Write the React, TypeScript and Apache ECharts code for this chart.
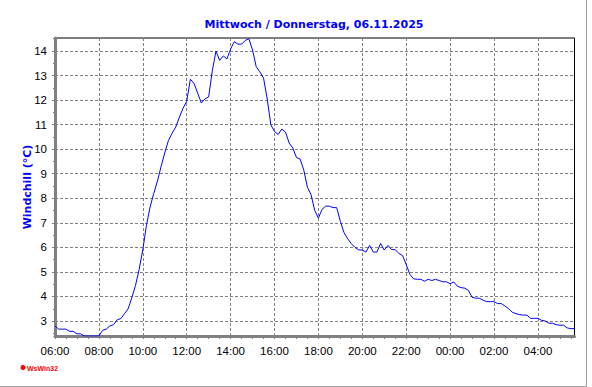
import React, { useEffect, useRef } from "react";
import * as echarts from "echarts";

const chartTitle = "Mittwoch / Donnerstag, 06.11.2025";
const yAxisName = "Windchill (°C)";
const startHour = 6;
const stepMinutes = 10;

// Windchill (°C), one value every 10 minutes from 06:00 to 05:40 of the next day
const windchill: number[] = [
  // 06:00 - 06:50
  2.8, 2.67, 2.67, 2.67, 2.58, 2.58,
  // 07:00 - 07:50
  2.48, 2.48, 2.39, 2.39, 2.39, 2.39,
  // 08:00 - 08:50
  2.39, 2.62, 2.67, 2.8, 2.85, 3.05,
  // 09:00 - 09:50
  3.1, 3.3, 3.5, 3.95, 4.45, 5.1,
  // 10:00 - 10:50
  5.9, 6.9, 7.65, 8.2, 8.7, 9.3,
  // 11:00 - 11:50
  9.85, 10.35, 10.65, 10.9, 11.3, 11.67,
  // 12:00 - 12:50
  11.95, 12.85, 12.68, 12.28, 11.88, 12.05,
  // 13:00 - 13:50
  12.13, 13.2, 14.0, 13.62, 13.8, 13.68,
  // 14:00 - 14:50
  14.08, 14.38, 14.28, 14.28, 14.43, 14.5,
  // 15:00 - 15:50
  14.04, 13.36, 13.15, 12.9, 12.05, 10.99,
  // 16:00 - 16:50
  10.72, 10.6, 10.82, 10.7, 10.25, 10.05,
  // 17:00 - 17:50
  9.66, 9.6, 9.15, 8.45, 8.14, 7.5,
  // 18:00 - 18:50
  7.19, 7.55, 7.68, 7.68, 7.62, 7.62,
  // 19:00 - 19:50
  7.06, 6.6, 6.35, 6.15, 6.0, 5.9,
  // 20:00 - 20:50
  5.89, 5.81, 6.08, 5.81, 5.81, 6.16,
  // 21:00 - 21:50
  5.89, 6.08, 5.91, 5.91, 5.75, 5.67,
  // 22:00 - 22:50
  5.3, 4.9, 4.72, 4.7, 4.7, 4.62,
  // 23:00 - 23:50
  4.7, 4.65, 4.7, 4.65, 4.6, 4.6,
  // 00:00 - 00:50
  4.52, 4.59, 4.42, 4.36, 4.34, 4.25,
  // 01:00 - 01:50
  3.97, 3.93, 3.93, 3.85, 3.79, 3.79,
  // 02:00 - 02:50
  3.79, 3.71, 3.71, 3.61, 3.5, 3.36,
  // 03:00 - 03:50
  3.3, 3.26, 3.24, 3.24, 3.11, 3.11,
  // 04:00 - 04:50
  3.11, 3.03, 3.0, 2.91, 2.91, 2.85,
  // 05:00 - 05:40
  2.83, 2.83, 2.72, 2.69, 2.69,
];

const yMin = 2.39;
const yMax = 14.53;
const yTickValues: number[] = [3, 4, 5, 6, 7, 8, 9, 10, 11, 12, 13, 14];
const yMinorTickValues: number[] = [2.5, 3.5, 4.5, 5.5, 6.5, 7.5, 8.5, 9.5, 10.5, 11.5, 12.5, 13.5, 14.5];

const pad = (n: number) => (n < 10 ? "0" + n : "" + n);
const times: string[] = windchill.map((_, i) => {
  const total = startHour * 60 + i * stepMinutes;
  const h = Math.floor(total / 60) % 24;
  const m = total % 60;
  return pad(h) + ":" + pad(m);
});

export default function App() {
  const ref = useRef<HTMLDivElement>(null);
  useEffect(() => {
    if (!ref.current) return;
    const chart = echarts.init(ref.current, null, { renderer: "svg" });
    const gray = "#808080";
    chart.setOption({
      animation: false,
      backgroundColor: "#ffffff",
      grid: {
        left: 55,
        right: 17.5,
        top: 38,
        bottom: 51,
        show: true,
        borderColor: "#000000",
        borderWidth: 1,
        backgroundColor: "transparent",
      },
      xAxis: {
        type: "category",
        data: times,
        boundaryGap: false,
        axisLine: { show: true, lineStyle: { color: gray, width: 3 } },
        axisTick: { show: true, interval: 2, length: 3, lineStyle: { color: gray, width: 1 } },
        axisLabel: {
          interval: 11,
          margin: 9,
          color: "#000000",
          fontFamily: "Liberation Sans, Arial, sans-serif",
          fontSize: 11.5,
        },
        splitLine: {
          show: true,
          interval: 11,
          lineStyle: { color: gray, type: [3, 2], width: 1 },
        },
      },
      yAxis: [
        {
          type: "value",
          min: yMin,
          max: yMax,
          axisLine: { show: true, lineStyle: { color: gray, width: 3 } },
          axisTick: { show: true, length: 3, customValues: yTickValues, lineStyle: { color: gray } },
          axisLabel: {
            margin: 8,
            color: "#000000",
            fontFamily: "Liberation Sans, Arial, sans-serif",
            fontSize: 11.5,
            customValues: yTickValues,
          },
          splitLine: { show: false },
        },
        {
          type: "value",
          min: yMin,
          max: yMax,
          position: "left",
          axisLine: { show: false },
          axisTick: { show: true, length: 2, customValues: yMinorTickValues, lineStyle: { color: gray } },
          axisLabel: { show: false },
          splitLine: { show: false },
        },
      ],
      series: [
        {
          type: "line",
          name: yAxisName,
          data: windchill,
          yAxisIndex: 0,
          showSymbol: false,
          symbol: "none",
          lineStyle: { color: "#0000FF", width: 1 },
          itemStyle: { color: "#0000FF" },
          z: 3,
          markLine: {
            silent: true,
            symbol: "none",
            label: { show: false },
            lineStyle: { color: gray, type: [3, 2], width: 1 },
            emphasis: { disabled: true },
            data: yTickValues.map((v) => ({ yAxis: v })),
            z: 1,
          },
        },
      ],
      graphic: [
        {
          type: "text",
          x: 314,
          y: 24,
          style: {
            text: chartTitle,
            fill: "#0000FF",
            font: 'bold 11px "DejaVu Sans", Verdana, sans-serif',
            textAlign: "center",
            textVerticalAlign: "middle",
          },
        },
        {
          type: "text",
          x: 27,
          y: 187,
          rotation: Math.PI / 2,
          style: {
            text: yAxisName,
            fill: "#0000FF",
            font: 'bold 11px "DejaVu Sans", Verdana, sans-serif',
            textAlign: "center",
            textVerticalAlign: "middle",
          },
        },
        {
          type: "circle",
          shape: { cx: 23, cy: 367.5, r: 2.5 },
          style: { fill: "#FF0000" },
        },
        {
          type: "text",
          x: 27,
          y: 368,
          style: {
            text: "WsWin32",
            fill: "#FF0000",
            font: 'bold 7px "Liberation Sans", Arial, sans-serif',
            textAlign: "left",
            textVerticalAlign: "middle",
          },
        },
        {
          type: "line",
          shape: { x1: 0, y1: 386.5, x2: 587, y2: 386.5 },
          style: { stroke: "#A0A0A0", lineWidth: 1 },
        },
        {
          type: "line",
          shape: { x1: 586.5, y1: 0, x2: 586.5, y2: 387 },
          style: { stroke: "#A0A0A0", lineWidth: 1 },
        },
      ],
    });
    return () => chart.dispose();
  }, []);
  return (
    <div
      ref={ref}
      style={{ position: "fixed", left: 0, top: 0, width: 592, height: 387 }}
    />
  );
}
